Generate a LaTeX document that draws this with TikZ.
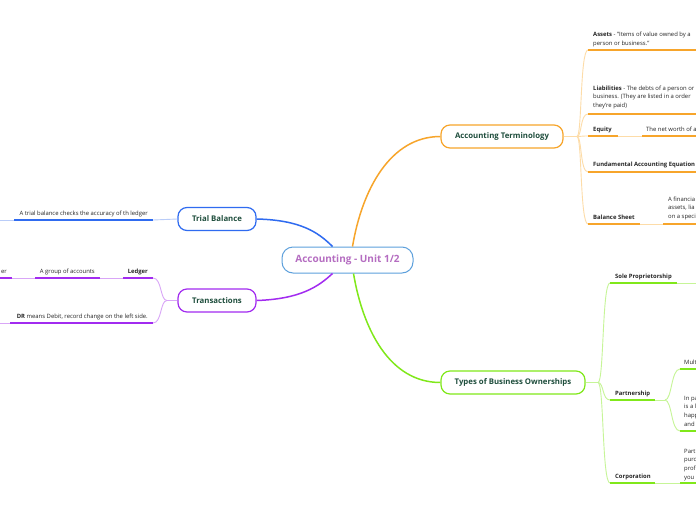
\documentclass[tikz,border=0pt]{standalone}
\usepackage{fontspec}
\setmainfont{Open Sans}
\definecolor{orgD}{HTML}{F7A52B}
\definecolor{orgL}{HTML}{FDDCA8}
\definecolor{bluD}{HTML}{2F6BF0}
\definecolor{bluL}{HTML}{B9CCF8}
\definecolor{purD}{HTML}{A22BF0}
\definecolor{purL}{HTML}{D9A6F7}
\definecolor{grnD}{HTML}{80E81A}
\definecolor{grnL}{HTML}{C6F597}
\definecolor{cenB}{HTML}{5DA0DC}
\definecolor{cenT}{HTML}{B56DC1}
\definecolor{tgreen}{HTML}{1F4E3D}
\tikzset{
  main/.style={draw, rounded corners=9pt, line width=1.2pt, fill=white,
    font=\bfseries\fontsize{7.8}{9}\selectfont, text=tgreen, minimum height=23pt, inner sep=2pt},
  lbl/.style={font=\fontsize{5.9}{8.6}\selectfont, align=left, inner sep=0pt, text=black!85, anchor=base west},
  lblr/.style={lbl, align=right, anchor=base east},
  uline/.style={line width=1.8pt},
  conn/.style={line width=1.5pt},
  twig/.style={line width=0.9pt},
}
\begin{document}
\begin{tikzpicture}[x=1pt,y=-1pt]
\useasboundingbox[fill=white] (0,0) rectangle (696,520);

% ---------- main nodes ----------
\node[main, draw=cenB, line width=1pt, minimum width=131pt, minimum height=26pt, rounded corners=11pt,
      text=cenT, font=\bfseries\fontsize{10}{12}\selectfont] (c) at (347.5,260) {Accounting - Unit 1/2};
\node[main, draw=orgD, minimum width=122pt] (at) at (502,136.5) {Accounting Terminology};
\node[main, draw=bluD, minimum width=78pt] (tb) at (217,219) {Trial Balance};
\node[main, draw=purD, minimum width=78pt] (tr) at (217,300.5) {Transactions};
\node[main, draw=grnD, minimum width=144pt] (ty) at (513,382.5) {Types of Business Ownerships};

% ---------- main connectors ----------
\draw[conn, orgD] ([xshift=5pt]c.north) .. controls (362,190) and (390,136.5) .. (at.west);
\draw[conn, grnD] ([xshift=6pt]c.south) .. controls (363,330) and (390,382.5) .. (ty.west);
\draw[conn, bluD] (tb.east) .. controls (300,220) and (318,232) .. ([xshift=-15pt]c.north);
\draw[conn, purD] (tr.east) .. controls (300,299) and (318,287) .. ([xshift=-15pt]c.south);

% ---------- Accounting Terminology children ----------
\coordinate (ofk) at (577,136.5);
\draw[twig, orgL] (at.east) -- (ofk);
\foreach \n/\y in {as/50, li/114, eq/136, fu/172, bs/224}{
  \coordinate (\n1) at (588,\y);
  \draw[twig, orgL] (ofk) .. controls (582,136.5) and (580,\y) .. (\n1);
}
\coordinate (as2) at (700,50);
\coordinate (li2) at (700,114);
\coordinate (eq2) at (618,136);
\coordinate (eq3) at (642,136);
\coordinate (eq4) at (700,136);
\coordinate (fu2) at (700,172);
\coordinate (bs2) at (640,224);
\coordinate (bs3) at (663,224);
\coordinate (bs4) at (700,224);
\draw[uline, orgD] (as1) -- (as2);
\draw[uline, orgD] (li1) -- (li2);
\draw[uline, orgD] (eq1) -- (eq2);
\draw[twig, orgL] (eq2) -- (eq3);
\draw[uline, orgD] (eq3) -- (eq4);
\draw[uline, orgD] (fu1) -- (fu2);
\draw[uline, orgD] (bs1) -- (bs2);
\draw[twig, orgL] (bs2) -- (bs3);
\draw[uline, orgD] (bs3) -- (bs4);

\node[lbl] (assets) at (593,45) {\textbf{Assets} - "Items of value owned by a\\person or business."};
\node[lbl] (liab) at (593,107.5) {\textbf{Liabilities} - The debts of a person or\\business. (They are listed in a order\\they're paid)};
\node[lbl] (equity) at (593,131) {\textbf{Equity}};
\node[lbl] (networth) at (646,131) {The net worth of a};
\node[lbl] (fund) at (593,166) {\textbf{Fundamental Accounting Equation}};
\node[lbl] (bsheet) at (593,219) {\textbf{Balance Sheet}};
\node[lbl] (fin) at (668,218.5) {A financia\\assets, lia\\on a speci};

% ---------- Trial Balance children ----------
\coordinate (tb1) at (153,220);
\coordinate (tb2) at (14,220);
\coordinate (tb3) at (-4,220);
\draw[twig, bluL] (tb.west) -- (tb1);
\draw[uline, bluD] (tb1) -- (tb2);
\draw[twig, bluL] (tb2) -- (tb3);
\node[lblr] (trialtxt) at (148,215) {A trial balance checks the accuracy of th ledger};

% ---------- Transactions children ----------
\coordinate (tfk) at (167,300.5);
\coordinate (le1) at (153,278);
\coordinate (le2) at (123,278);
\coordinate (gr1) at (100,278);
\coordinate (gr2) at (35,278);
\coordinate (er1) at (12,278);
\coordinate (er2) at (-4,278);
\coordinate (dr1) at (153,323);
\coordinate (dr2) at (10,323);
\coordinate (dr3) at (-4,323);
\draw[twig, purL] (tr.west) -- (tfk);
\draw[twig, purL] (tfk) .. controls (160,300.5) and (162,278) .. (le1);
\draw[twig, purL] (tfk) .. controls (160,300.5) and (162,323) .. (dr1);
\draw[uline, purD] (le1) -- (le2);
\draw[twig, purL] (le2) -- (gr1);
\draw[uline, purD] (gr1) -- (gr2);
\draw[twig, purL] (gr2) -- (er1);
\draw[uline, purD] (er1) -- (er2);
\draw[uline, purD] (dr1) -- (dr2);
\draw[twig, purL] (dr2) -- (dr3);
\node[lblr] (ledger) at (148,273) {\textbf{Ledger}};
\node[lblr] (group) at (95,273) {A group of accounts};
\node[lblr] (ertxt) at (7,273) {er};
\node[lblr] (drtxt) at (148,318) {\textbf{DR} means Debit, record change on the left side.};

% ---------- Types of Business Ownerships children ----------
\coordinate (gfk) at (598,382.5);
\draw[twig, grnL] (ty.east) -- (gfk);
\foreach \n/\y in {so/283, pa/400, co/483}{
  \coordinate (\n1) at (610,\y);
  \draw[twig, grnL] (gfk) .. controls (604,382.5) and (602,\y) .. (\n1);
}
\coordinate (so2) at (677,283);
\coordinate (so3) at (700,283);
\coordinate (pa2) at (655,400);
\coordinate (pfk) at (665,400);
\coordinate (mu1) at (680,369);
\coordinate (mu2) at (700,369);
\coordinate (ip1) at (680,431);
\coordinate (ip2) at (700,431);
\coordinate (co2) at (655,483);
\coordinate (co3) at (680,483);
\coordinate (co4) at (700,483);
\draw[uline, grnD] (so1) -- (so2);
\draw[twig, grnL] (so2) -- (so3);
\draw[uline, grnD] (pa1) -- (pa2);
\draw[twig, grnL] (pa2) -- (pfk);
\draw[twig, grnL] (pfk) .. controls (672,400) and (671,369) .. (mu1);
\draw[twig, grnL] (pfk) .. controls (672,400) and (671,431) .. (ip1);
\draw[uline, grnD] (mu1) -- (mu2);
\draw[uline, grnD] (ip1) -- (ip2);
\draw[uline, grnD] (co1) -- (co2);
\draw[twig, grnL] (co2) -- (co3);
\draw[uline, grnD] (co3) -- (co4);

\node[lbl] (sole) at (615,278) {\textbf{Sole Proprietorship}};
\node[lbl] (partner) at (615,395) {\textbf{Partnership}};
\node[lbl] (corp) at (615,478) {\textbf{Corporation}};
\node[lbl] (mult) at (684,364) {Mult};
\node[lbl] (inpa) at (684,426) {In pa\\is a l\\happ\\and};
\node[lbl] (part) at (684,479) {Part\\purc\\profi\\you l};
\end{tikzpicture}
\end{document}
